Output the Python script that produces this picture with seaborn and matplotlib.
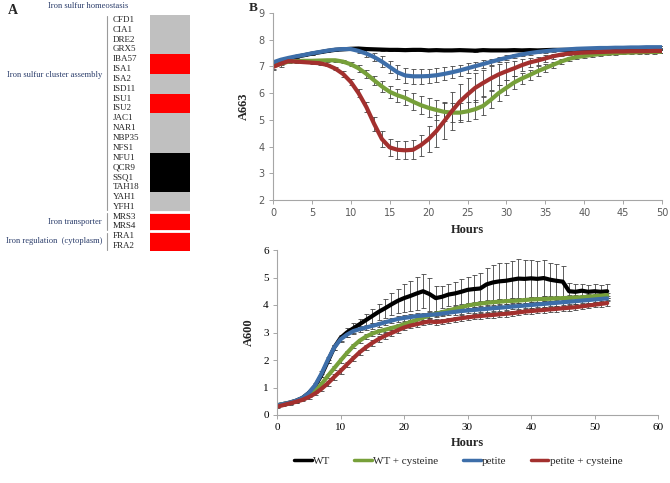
import numpy as np
import pandas as pd

import matplotlib.pyplot as plt
import seaborn as sns
from matplotlib.colors import ListedColormap
from matplotlib.lines import Line2D


sns.set_theme(style='white')
plt.rcParams['font.family'] = ['Liberation Serif', 'DejaVu Serif']

## panel A data ##
genes = ['CFD1', 'CIA1', 'DRE2', 'GRX5', 'IBA57', 'ISA1', 'ISA2', 'ISD11', 'ISU1', 'ISU2',
         'JAC1', 'NAR1', 'NBP35', 'NFS1', 'NFU1', 'QCR9', 'SSQ1', 'TAH18', 'YAH1', 'YFH1',
         'MRS3', 'MRS4', 'FRA1', 'FRA2']
# 0 = gray, 1 = red, 2 = black
gene_class = [0, 0, 0, 0, 1, 1, 0, 0, 1, 1,
              0, 0, 0, 0, 2, 2, 2, 2, 0, 0,
              1, 1, 1, 1]
groups = ['Iron sulfur cluster assembly', 'Iron transporter', 'Iron regulation  (cytoplasm)']
group_rows = [(0, 20), (20, 22), (22, 24)]

## panel B data ##
strains = ['WT', 'WT + cysteine', 'petite', 'petite + cysteine']
colors = ['#000000', '#77a03a', '#3d6ea9', '#a3302e']

hours_a663 = list(range(0, 51))
a663_wt = [7.10, 7.20, 7.28, 7.36, 7.42, 7.48, 7.53, 7.58, 7.62, 7.64, 7.66, 7.67, 7.65, 7.64, 7.63, 7.62, 7.62,
           7.61, 7.62, 7.62, 7.60, 7.61, 7.60, 7.60, 7.61, 7.60, 7.59, 7.61, 7.60, 7.60, 7.60, 7.61, 7.60, 7.61,
           7.60, 7.61, 7.62, 7.62, 7.62, 7.63, 7.63, 7.63, 7.63, 7.64, 7.64, 7.64, 7.64, 7.65, 7.65, 7.65, 7.65]
a663_wt_cys = [7.00, 7.10, 7.18, 7.20, 7.21, 7.21, 7.22, 7.23, 7.23, 7.18, 7.08, 6.93, 6.72, 6.48, 6.25, 6.05, 5.92,
               5.82, 5.68, 5.55, 5.45, 5.37, 5.30, 5.27, 5.27, 5.32, 5.40, 5.52, 5.75, 6.00, 6.20, 6.40, 6.55, 6.68,
               6.82, 6.94, 7.06, 7.18, 7.28, 7.35, 7.39, 7.43, 7.46, 7.48, 7.50, 7.51, 7.52, 7.53, 7.54, 7.54, 7.55]
a663_petite = [7.15, 7.25, 7.32, 7.38, 7.43, 7.49, 7.54, 7.59, 7.63, 7.65, 7.65, 7.58, 7.48, 7.35, 7.18, 6.98, 6.78,
               6.66, 6.63, 6.63, 6.64, 6.67, 6.72, 6.78, 6.85, 6.93, 7.01, 7.09, 7.17, 7.25, 7.32, 7.39, 7.45, 7.50,
               7.54, 7.57, 7.60, 7.62, 7.64, 7.66, 7.67, 7.68, 7.69, 7.69, 7.70, 7.70, 7.71, 7.71, 7.72, 7.72, 7.72]
a663_petite_cys = [6.98, 7.10, 7.20, 7.18, 7.16, 7.14, 7.12, 7.05, 6.92, 6.72, 6.42, 6.00, 5.48, 4.85, 4.28, 3.97,
                   3.88, 3.86, 3.88, 4.05, 4.28, 4.58, 4.95, 5.33, 5.68, 5.95, 6.20, 6.38, 6.55, 6.70, 6.82, 6.93,
                   7.05, 7.15, 7.22, 7.30, 7.38, 7.44, 7.48, 7.50, 7.52, 7.53, 7.54, 7.55, 7.56, 7.56, 7.57, 7.57,
                   7.57, 7.58, 7.58]

a663_wt_err = [0.08, 0.05, 0.04, 0.04, 0.04, 0.04, 0.04, 0.04, 0.04, 0.04, 0.04, 0.04, 0.04, 0.04, 0.04, 0.04, 0.04,
               0.04, 0.04, 0.04, 0.04, 0.04, 0.04, 0.04, 0.04, 0.04, 0.04, 0.04, 0.04, 0.04, 0.04, 0.04, 0.04, 0.04,
               0.04, 0.04, 0.04, 0.04, 0.04, 0.04, 0.04, 0.04, 0.04, 0.04, 0.04, 0.04, 0.04, 0.04, 0.04, 0.04, 0.04]
a663_wt_cys_err = [0.08, 0.05, 0.05, 0.05, 0.05, 0.05, 0.05, 0.05, 0.05, 0.05, 0.08, 0.12, 0.15, 0.18, 0.20, 0.22,
                   0.24, 0.28, 0.32, 0.34, 0.35, 0.36, 0.36, 0.35, 0.35, 0.35, 0.35, 0.34, 0.32, 0.30, 0.28, 0.25,
                   0.22, 0.20, 0.18, 0.15, 0.12, 0.10, 0.08, 0.06, 0.06, 0.06, 0.06, 0.06, 0.06, 0.06, 0.06, 0.06,
                   0.06, 0.06, 0.06]
a663_petite_err = [0.08, 0.05, 0.05, 0.05, 0.05, 0.05, 0.05, 0.05, 0.05, 0.05, 0.05, 0.08, 0.12, 0.16, 0.20, 0.24,
                   0.26, 0.27, 0.28, 0.28, 0.27, 0.26, 0.24, 0.22, 0.20, 0.18, 0.16, 0.14, 0.12, 0.10, 0.09, 0.06,
                   0.06, 0.06, 0.05, 0.05, 0.05, 0.05, 0.05, 0.05, 0.05, 0.05, 0.05, 0.05, 0.05, 0.05, 0.05, 0.05,
                   0.05, 0.05, 0.05]
a663_petite_cys_err = [0.10, 0.12, 0.05, 0.05, 0.05, 0.05, 0.05, 0.05, 0.05, 0.10, 0.12, 0.15, 0.20, 0.25, 0.30,
                       0.33, 0.33, 0.33, 0.35, 0.40, 0.50, 0.60, 0.68, 0.70, 0.68, 0.62, 0.55, 0.50, 0.45, 0.40,
                       0.33, 0.28, 0.22, 0.18, 0.15, 0.12, 0.10, 0.06, 0.06, 0.06, 0.06, 0.06, 0.06, 0.06, 0.06,
                       0.06, 0.06, 0.06, 0.06, 0.06, 0.06]

hours_a600 = list(range(0, 53))
a600_wt = [0.35, 0.40, 0.45, 0.52, 0.62, 0.80, 1.05, 1.45, 1.95, 2.45, 2.80, 3.00, 3.15, 3.30, 3.45, 3.60, 3.75,
           3.88, 4.02, 4.15, 4.25, 4.33, 4.42, 4.50, 4.40, 4.25, 4.30, 4.38, 4.42, 4.48, 4.55, 4.58, 4.60, 4.75,
           4.82, 4.86, 4.88, 4.92, 4.96, 4.95, 4.97, 4.95, 4.98, 4.92, 4.88, 4.85, 4.50, 4.48, 4.52, 4.48, 4.50,
           4.48, 4.50]
a600_wt_cys = [0.35, 0.40, 0.44, 0.50, 0.58, 0.70, 0.88, 1.12, 1.42, 1.70, 1.98, 2.25, 2.50, 2.70, 2.85, 2.96, 3.04,
               3.10, 3.16, 3.22, 3.30, 3.38, 3.46, 3.54, 3.62, 3.68, 3.74, 3.80, 3.86, 3.92, 3.98, 4.02, 4.05, 4.08,
               4.10, 4.12, 4.14, 4.15, 4.16, 4.18, 4.20, 4.21, 4.22, 4.23, 4.24, 4.25, 4.26, 4.27, 4.28, 4.30, 4.32,
               4.34, 4.36]
a600_petite = [0.35, 0.40, 0.45, 0.52, 0.62, 0.80, 1.08, 1.50, 2.00, 2.45, 2.75, 2.92, 3.05, 3.12, 3.18, 3.24, 3.30,
               3.37, 3.43, 3.49, 3.53, 3.56, 3.60, 3.62, 3.64, 3.66, 3.69, 3.72, 3.75, 3.78, 3.80, 3.82, 3.84, 3.86,
               3.88, 3.90, 3.92, 3.94, 3.96, 3.98, 4.00, 4.02, 4.04, 4.06, 4.08, 4.10, 4.12, 4.14, 4.16, 4.18, 4.20,
               4.22, 4.24]
a600_petite_cys = [0.30, 0.36, 0.42, 0.48, 0.55, 0.65, 0.78, 0.95, 1.15, 1.38, 1.60, 1.83, 2.06, 2.28, 2.46, 2.62,
                   2.76, 2.88, 2.98, 3.08, 3.18, 3.25, 3.30, 3.36, 3.40, 3.38, 3.40, 3.44, 3.48, 3.52, 3.55, 3.58,
                   3.60, 3.62, 3.64, 3.66, 3.68, 3.70, 3.73, 3.76, 3.78, 3.80, 3.82, 3.84, 3.86, 3.88, 3.90, 3.92,
                   3.95, 3.98, 4.01, 4.04, 4.07]

a600_wt_err = [0.05, 0.05, 0.05, 0.05, 0.05, 0.05, 0.05, 0.05, 0.05, 0.10, 0.12, 0.15, 0.18, 0.20, 0.22, 0.25, 0.30,
               0.35, 0.40, 0.45, 0.50, 0.55, 0.60, 0.62, 0.60, 0.45, 0.40, 0.40, 0.42, 0.45, 0.48, 0.50, 0.55, 0.60,
               0.65, 0.65, 0.65, 0.68, 0.70, 0.68, 0.68, 0.66, 0.65, 0.62, 0.60, 0.58, 0.30, 0.28, 0.25, 0.25, 0.25,
               0.25, 0.25]
a600_wt_cys_err = [0.04, 0.04, 0.04, 0.05, 0.05, 0.06, 0.07, 0.08, 0.08, 0.08, 0.08, 0.08, 0.08, 0.08, 0.08, 0.08,
                   0.08, 0.08, 0.08, 0.08, 0.08, 0.09, 0.09, 0.09, 0.09, 0.09, 0.09, 0.09, 0.09, 0.09, 0.09, 0.09,
                   0.09, 0.09, 0.09, 0.09, 0.09, 0.09, 0.09, 0.09, 0.09, 0.09, 0.09, 0.09, 0.09, 0.09, 0.09, 0.09,
                   0.09, 0.09, 0.09, 0.09, 0.09]
a600_petite_err = [0.04, 0.04, 0.04, 0.05, 0.05, 0.06, 0.08, 0.10, 0.10, 0.10, 0.10, 0.10, 0.10, 0.10, 0.10, 0.10,
                   0.10, 0.10, 0.10, 0.10, 0.10, 0.10, 0.10, 0.10, 0.10, 0.10, 0.10, 0.10, 0.10, 0.10, 0.10, 0.10,
                   0.10, 0.10, 0.10, 0.10, 0.10, 0.10, 0.10, 0.10, 0.10, 0.10, 0.10, 0.10, 0.10, 0.10, 0.10, 0.10,
                   0.10, 0.10, 0.10, 0.10, 0.10]
a600_petite_cys_err = [0.04, 0.04, 0.04, 0.05, 0.05, 0.06, 0.07, 0.08, 0.09, 0.10, 0.10, 0.10, 0.10, 0.10, 0.10,
                       0.10, 0.10, 0.10, 0.10, 0.10, 0.10, 0.10, 0.10, 0.10, 0.10, 0.10, 0.10, 0.10, 0.10, 0.10,
                       0.10, 0.10, 0.10, 0.10, 0.10, 0.10, 0.10, 0.10, 0.10, 0.10, 0.10, 0.10, 0.10, 0.10, 0.10,
                       0.10, 0.10, 0.10, 0.10, 0.10, 0.10, 0.10, 0.10]


def long_df(hours, series):
    frames = []
    for name, vals, err in series:
        frames.append(pd.DataFrame({'hours': hours, 'value': vals, 'err': err, 'strain': name}))
    return pd.concat(frames, ignore_index=True)


df_663 = long_df(hours_a663, [
    ('WT', a663_wt, a663_wt_err),
    ('WT + cysteine', a663_wt_cys, a663_wt_cys_err),
    ('petite', a663_petite, a663_petite_err),
    ('petite + cysteine', a663_petite_cys, a663_petite_cys_err),
])
df_600 = long_df(hours_a600, [
    ('WT', a600_wt, a600_wt_err),
    ('WT + cysteine', a600_wt_cys, a600_wt_cys_err),
    ('petite', a600_petite, a600_petite_err),
    ('petite + cysteine', a600_petite_cys, a600_petite_cys_err),
])

fig = plt.figure(figsize=(6.7, 4.83), dpi=100)

### panel A: gene strip ###
ax_a = fig.add_axes([150 / 670, 1 - 251 / 483, 40 / 670, 236 / 483])
strip = pd.DataFrame({'c': gene_class}, index=genes)
sns.heatmap(strip, ax=ax_a, cmap=ListedColormap(['#c0c0c0', '#ff0000', '#000000']),
            vmin=-0.5, vmax=2.5, cbar=False, xticklabels=False, yticklabels=True)
ax_a.tick_params(axis='y', length=0, pad=27, labelsize=6.5, rotation=0)
for lab in ax_a.get_yticklabels():
    lab.set_horizontalalignment('left')
    lab.set_color('#222222')
for r in [20, 22]:
    ax_a.axhline(r, color='white', lw=2)

navy = '#2b3d6b'
for name, (r0, r1) in zip(groups, group_rows):
    ax_a.plot([-1.075, -1.075], [r0 + 0.15, r1 - 0.15], transform=ax_a.get_yaxis_transform(),
              color='#9a9a9a', lw=0.8, clip_on=False)
    ax_a.text(-1.2, (r0 + r1) / 2 if r0 > 0 else 6.1, name, transform=ax_a.get_yaxis_transform(),
              ha='right', va='center', fontsize=6.1, color=navy)
ax_a.text(-1.55, -0.95, 'Iron sulfur homeostasis', transform=ax_a.get_yaxis_transform(),
          ha='center', va='center', fontsize=6.1, color=navy)
fig.text(8 / 670, 1 - 11 / 483, 'A', fontsize=10, fontweight='bold', va='center')
fig.text(253 / 670, 1 - 8 / 483, 'B', fontsize=9.5, fontweight='bold', va='center', ha='center')

### panel B ###
palette = dict(zip(strains, colors))


def draw(ax, df):
    for name in strains:
        d = df[df['strain'] == name]
        ax.errorbar(d['hours'], d['value'], yerr=d['err'], fmt='none', ecolor='#444444',
                    elinewidth=0.6, capsize=1.8, capthick=0.6, zorder=1)
    sns.lineplot(data=df, x='hours', y='value', hue='strain', hue_order=strains, palette=palette,
                 linewidth=3, legend=False, errorbar=None, ax=ax, zorder=2)
    for side in ['top', 'right']:
        ax.spines[side].set_visible(False)
    for side in ['left', 'bottom']:
        ax.spines[side].set_color('#a6a6a6')
        ax.spines[side].set_linewidth(0.8)
    ax.tick_params(axis='both', which='both', direction='out', length=3, width=0.7, color='#a6a6a6',
                   bottom=True, left=True)


ax_top = fig.add_axes([273 / 670, 1 - 200 / 483, 389 / 670, 187 / 483])
draw(ax_top, df_663)
ax_top.set_xlim(0, 50)
ax_top.set_ylim(2, 9)
ax_top.set_xticks(range(0, 51, 5))
ax_top.set_yticks(range(2, 10))
ax_top.tick_params(labelsize=7, labelcolor='#595959', pad=3)
for lab in ax_top.get_xticklabels() + ax_top.get_yticklabels():
    lab.set_fontfamily('DejaVu Sans')
ax_top.set_xlabel('Hours', fontsize=9, fontweight='bold', labelpad=4)
ax_top.set_ylabel('A663', fontsize=9, fontweight='bold', labelpad=6)

ax_bot = fig.add_axes([277 / 670, 1 - 415 / 483, 381 / 670, 165 / 483])
draw(ax_bot, df_600)
ax_bot.set_xlim(0, 60)
ax_bot.set_ylim(0, 6)
ax_bot.set_xticks(range(0, 61, 10))
ax_bot.set_yticks(range(0, 7))
ax_bot.tick_params(labelsize=8, labelcolor='black', pad=3)
ax_bot.set_xlabel('Hours', fontsize=9, fontweight='bold', labelpad=3)
ax_bot.set_ylabel('A600', fontsize=9, fontweight='bold', labelpad=6)

handles = [Line2D([], [], color=c, lw=2.5) for c in colors]
fig.legend(handles, strains, loc='center', bbox_to_anchor=(458 / 670, 1 - 461 / 483), ncol=4,
           frameon=False, fontsize=8, handlelength=1.6, handletextpad=0.1, columnspacing=2.2)

fig.savefig('out.png', dpi=100)
